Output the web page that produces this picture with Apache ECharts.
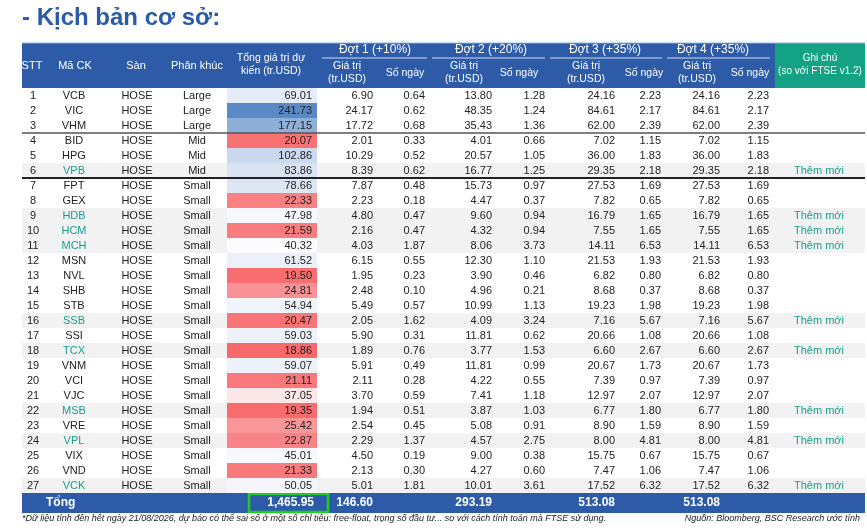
<!DOCTYPE html>
<html><head><meta charset="utf-8">
<script src="https://cdn.jsdelivr.net/npm/echarts@6/dist/echarts.min.js"></script>
<style>html,body{margin:0;padding:0;background:#fff}#c{width:867px;height:532px}</style>
</head><body><div id="c"></div>
<script>
var codes = ['VCB','VIC','VHM','BID','HPG','VPB','FPT','GEX','HDB','HCM','MCH','MSN','NVL','SHB','STB','SSB','SSI','TCX','VNM','VCI','VJC','MSB','VRE','VPL','VIX','VND','VCK'];
var exchange = 'HOSE';
var segments = ['Large','Large','Large','Mid','Mid','Mid','Small','Small','Small','Small','Small','Small','Small','Small','Small','Small','Small','Small','Small','Small','Small','Small','Small','Small','Small','Small','Small'];
var totals = [69.01,241.73,177.15,20.07,102.86,83.86,78.66,22.33,47.98,21.59,40.32,61.52,19.50,24.81,54.94,20.47,59.03,18.86,59.07,21.11,37.05,19.35,25.42,22.87,45.01,21.33,50.05];
var d1Val = [6.90,24.17,17.72,2.01,10.29,8.39,7.87,2.23,4.80,2.16,4.03,6.15,1.95,2.48,5.49,2.05,5.90,1.89,5.91,2.11,3.70,1.94,2.54,2.29,4.50,2.13,5.01];
var d1Day = [0.64,0.62,0.68,0.33,0.52,0.62,0.48,0.18,0.47,0.47,1.87,0.55,0.23,0.10,0.57,1.62,0.31,0.76,0.49,0.28,0.59,0.51,0.45,1.37,0.19,0.30,1.81];
var d2Val = [13.80,48.35,35.43,4.01,20.57,16.77,15.73,4.47,9.60,4.32,8.06,12.30,3.90,4.96,10.99,4.09,11.81,3.77,11.81,4.22,7.41,3.87,5.08,4.57,9.00,4.27,10.01];
var d2Day = [1.28,1.24,1.36,0.66,1.05,1.25,0.97,0.37,0.94,0.94,3.73,1.10,0.46,0.21,1.13,3.24,0.62,1.53,0.99,0.55,1.18,1.03,0.91,2.75,0.38,0.60,3.61];
var d3Val = [24.16,84.61,62.00,7.02,36.00,29.35,27.53,7.82,16.79,7.55,14.11,21.53,6.82,8.68,19.23,7.16,20.66,6.60,20.67,7.39,12.97,6.77,8.90,8.00,15.75,7.47,17.52];
var d3Day = [2.23,2.17,2.39,1.15,1.83,2.18,1.69,0.65,1.65,1.65,6.53,1.93,0.80,0.37,1.98,5.67,1.08,2.67,1.73,0.97,2.07,1.80,1.59,4.81,0.67,1.06,6.32];
var d4Val = d3Val.slice();
var d4Day = d3Day.slice();
var isNew = [0,0,0,0,0,1,0,0,1,1,1,0,0,0,0,1,0,1,0,0,0,1,0,1,0,0,1];
var totalRow = ['1,465.95','146.60','293.19','513.08','513.08'];

var FONT = '"Liberation Sans Narrow","Liberation Sans",Arial,sans-serif';
var BLUE = '#2d5ba8', GREEN = '#14a285', TEAL = '#1a9e8a';
var rows = codes.map(function (c, i) { return String(i + 1); });

// excel style 3-colour scale: min red, median white, max blue
var sorted = totals.slice().sort(function (a, b) { return a - b; });
var tMin = sorted[0], tMax = sorted[sorted.length - 1], tMed = sorted[Math.floor(sorted.length / 2)];
function mix(a, b, t) {
  return 'rgb(' + [0, 1, 2].map(function (k) { return Math.round(a[k] + (b[k] - a[k]) * t); }).join(',') + ')';
}
function scaleColor(v) {
  var red = [248, 105, 107], white = [252, 252, 255], blue = [90, 138, 198];
  if (v <= tMed) return mix(red, white, (v - tMin) / (tMed - tMin));
  return mix(white, blue, (v - tMed) / (tMax - tMed));
}

// column layout (x in px, since the x axis runs 0..867)
var numCols = [
  {arr: d1Val, x: 373}, {arr: d1Day, x: 425},
  {arr: d2Val, x: 492}, {arr: d2Day, x: 545},
  {arr: d3Val, x: 615}, {arr: d3Day, x: 661},
  {arr: d4Val, x: 720}, {arr: d4Day, x: 769}
];

function txt(x, y, s, align, color, weight) {
  return {type: 'text', x: x, y: y, style: {text: s, align: align, verticalAlign: 'middle',
    fill: color || '#222', font: (weight || 'normal') + ' 11px ' + FONT}};
}

function renderRow(params, api) {
  var i = api.value(0);
  var c = api.coord([0, i]);
  var h = api.size([0, 1])[1];
  var y = c[1], top = y - h / 2;
  var kids = [];
  if (isNew[i]) kids.push({type: 'rect', shape: {x: 22, y: top, width: 843, height: h}, style: {fill: '#f2f2f2'}});
  kids.push({type: 'rect', shape: {x: 227, y: top, width: 90, height: h}, style: {fill: scaleColor(totals[i])}});
  kids.push(txt(33, y, String(i + 1), 'center'));
  kids.push(txt(74, y, codes[i], 'center', isNew[i] ? TEAL : '#222'));
  kids.push(txt(137, y, exchange, 'center'));
  kids.push(txt(197, y, segments[i], 'center'));
  kids.push(txt(312, y, totals[i].toFixed(2), 'right'));
  numCols.forEach(function (col) { kids.push(txt(col.x, y, col.arr[i].toFixed(2), 'right')); });
  if (isNew[i]) kids.push(txt(819, y, 'Thêm mới', 'center', TEAL));
  if (i === 3) kids.push({type: 'line', shape: {x1: 22, y1: top, x2: 865, y2: top}, style: {stroke: '#555', lineWidth: 1.5}});
  if (i === 6) kids.push({type: 'line', shape: {x1: 22, y1: top, x2: 865, y2: top}, style: {stroke: '#222', lineWidth: 2}});
  return {type: 'group', children: kids};
}

var hdr = [
  {type: 'rect', shape: {x: 22, y: 43, width: 753, height: 45}, style: {fill: BLUE}},
  {type: 'rect', shape: {x: 775, y: 43, width: 90, height: 45}, style: {fill: GREEN}},
  {type: 'line', shape: {x1: 22, y1: 43, x2: 865, y2: 43}, style: {stroke: '#8fb4e3', lineWidth: 1}},
  {type: 'rect', shape: {x: 22, y: 493, width: 843, height: 20}, style: {fill: BLUE}},
  {type: 'rect', shape: {x: 249, y: 494, width: 79, height: 18}, style: {fill: 'none', stroke: '#22cc22', lineWidth: 2.5}}
];
[[322, 427], [432, 545], [550, 662], [667, 770]].forEach(function (s) {
  hdr.push({type: 'line', shape: {x1: s[0], y1: 58, x2: s[1], y2: 58}, style: {stroke: '#cfdcf0', lineWidth: 1}});
});
function ht(x, y, s, size) {
  return {type: 'text', x: x, y: y, style: {text: s, align: 'center', verticalAlign: 'middle',
    fill: '#fff', font: 'normal ' + (size || 11) + 'px ' + FONT, lineHeight: 13}};
}
hdr.push(ht(32, 66, 'STT'), ht(75, 66, 'Mã CK'), ht(136, 66, 'Sàn'), ht(197, 66, 'Phân khúc'),
  ht(271, 65, 'Tổng giá trị dự\nkiến (tr.USD)', 10.5),
  ht(375, 50, 'Đợt 1 (+10%)', 12), ht(491, 50, 'Đợt 2 (+20%)', 12), ht(605, 50, 'Đợt 3 (+35%)', 12), ht(713, 50, 'Đợt 4 (+35%)', 12),
  ht(820, 65, 'Ghi chú\n(so với FTSE v1.2)', 10));
[347, 464, 586, 697].forEach(function (x) { hdr.push(ht(x, 73, 'Giá trị\n(tr.USD)', 10.5)); });
[405, 519, 644, 750].forEach(function (x) { hdr.push(ht(x, 73, 'Số ngày', 10.5)); });
hdr.push({type: 'text', x: 46, y: 503, style: {text: 'Tổng', fill: '#fff', font: 'bold 12px ' + FONT, verticalAlign: 'middle'}});
[[314, 0], [373, 1], [492, 2], [615, 3], [720, 4]].forEach(function (p) {
  hdr.push({type: 'text', x: p[0], y: 503, style: {text: totalRow[p[1]], align: 'right', verticalAlign: 'middle', fill: '#fff', font: 'bold 12px ' + FONT}});
});
hdr.push({type: 'text', x: 22, y: 518, style: {text: '*Dữ liệu tính đến hết ngày 21/08/2026, dự báo có thể sai số ở một số chỉ tiêu: free-float, trọng số đầu tư... so với cách tính toán mà FTSE sử dụng.', fill: '#222', font: 'italic 9px ' + FONT, verticalAlign: 'middle'}});
hdr.push({type: 'text', x: 860, y: 518, style: {text: 'Nguồn: Bloomberg, BSC Research ước tính', align: 'right', fill: '#222', font: 'italic 9px ' + FONT, verticalAlign: 'middle'}});
hdr.push({type: 'text', x: 22, y: 18, style: {text: '- Kịch bản cơ sở:', fill: '#2a5aa8', font: 'bold 24px ' + FONT, verticalAlign: 'middle'}});

var chart = echarts.init(document.getElementById('c'));
chart.setOption({
  animation: false,
  grid: {left: 0, right: 0, top: 88, bottom: 39},
  xAxis: {type: 'value', min: 0, max: 867, show: false},
  yAxis: {type: 'category', data: rows, inverse: true, show: false},
  graphic: hdr,
  series: [{
    type: 'custom',
    renderItem: renderRow,
    data: codes.map(function (c, i) { return [i]; }),
    encode: {y: 0}
  }]
});
</script></body></html>
